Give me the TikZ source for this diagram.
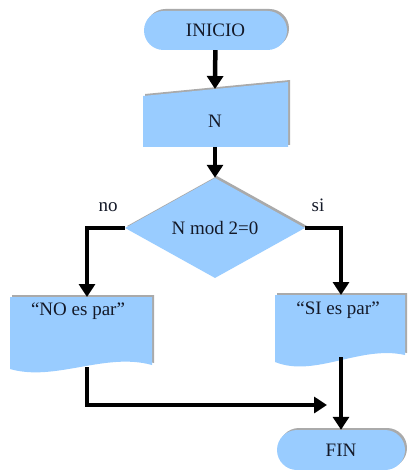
\documentclass[tikz,border=0pt]{standalone}
\usepackage{fontspec}
\setmainfont{Liberation Serif}
\usetikzlibrary{arrows.meta,shapes.geometric,shapes.misc,shadows}
\definecolor{boxblue}{RGB}{153,204,255}
\definecolor{edgegray}{RGB}{170,170,170}
\definecolor{inkdark}{RGB}{20,25,40}

\begin{document}
\begin{tikzpicture}[x=1pt,y=-1pt,
  every node/.style={font=\fontsize{19}{22}\selectfont,text=inkdark},
  blockfill/.style={fill=boxblue,general shadow={fill=edgegray,shadow xshift=2pt,shadow yshift=2pt}},
  term/.style={blockfill,rounded rectangle,minimum width=143pt,minimum height=39pt,inner sep=0pt},
  decision/.style={blockfill,diamond,minimum width=180pt,minimum height=80pt,inner sep=0pt},
  flow/.style={line width=4.5pt,-{Triangle[length=13pt,width=16pt]}}]
            \useasboundingbox (0,0) rectangle (411,470);

            \node[term] (inicio) at (215.5,30.5) {INICIO};

            \path[blockfill] (143,96) -- (288,82) -- (288,147) -- (143,147) -- cycle;
            \node (n) at (215,121) {N};
            \coordinate (ntop) at (215,89);
            \coordinate (nbot) at (215,147);

            \node[decision] (cond) at (215,228) {N mod 2=0};
            \node (no) at (108,207) {no};
            \node (si) at (318,205) {si};

            \path[blockfill] (10,297) -- (152,297) -- (152,365) .. controls (105,352) and (55,382) .. (10,369) -- cycle;
            \node (nopar) at (78,311) {“NO es par”};
            \coordinate (notop) at (87,297);
            \coordinate (nobot) at (87,367);

            \path[blockfill] (275,295) -- (405,295) -- (405,355) .. controls (360,345) and (315,378) .. (275,362) -- cycle;
            \node (sipar) at (338,310) {“SI es par”};
            \coordinate (sitop) at (341,295);
            \coordinate (sibot) at (341,357);

            \coordinate (join) at (327,405);
            \node[term,minimum width=128pt,minimum height=40pt] (fin) at (341,450) {FIN};

            \path [flow] (inicio) edge (ntop);
            \path [flow] (nbot) edge (cond);
            \draw [flow] (cond.west) -| (notop);
            \draw [flow] (cond.east) -| (sitop);
            \draw [flow] (nobot) |- (join);
            \path [flow] (sibot) edge (fin);
        \end{tikzpicture}
\end{document}
